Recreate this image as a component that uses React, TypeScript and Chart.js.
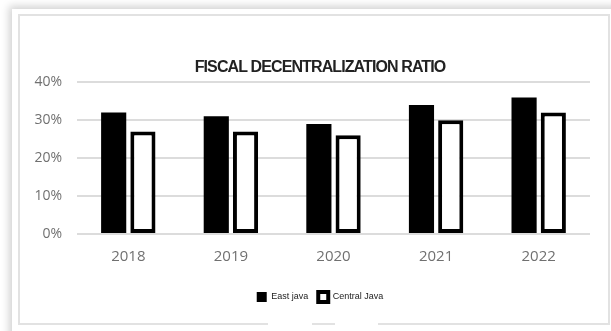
import React, { useEffect, useRef } from "react";
import { Chart, registerables } from "chart.js";

Chart.register(...registerables);

const categories = ["2018", "2019", "2020", "2021", "2022"];
const eastJava = [32, 31, 29, 34, 36];
const centralJava = [27, 27, 26, 30, 32];
const yTicks = [0, 10, 20, 30, 40];
const titleText = "FISCAL DECENTRALIZATION RATIO";

const wrapDraw = (chart: any, block: any, shiftX: number, spacing: string | null) => {
  if (!block || block._wrapped) return;
  const orig = block.draw.bind(block);
  block.draw = (...args: any[]) => {
    const c = chart.ctx as any;
    c.save();
    c.translate(shiftX, 0);
    if (spacing) c.letterSpacing = spacing;
    orig(...args);
    c.restore();
  };
  block._wrapped = true;
};

const blockShiftPlugin = {
  id: "blockShift",
  afterLayout(chart: any) {
    wrapDraw(chart, chart.titleBlock, 15.5, "-0.9px");
    wrapDraw(chart, chart.legend, 15.5, null);
  },
};

export default function App() {
  const ref = useRef<HTMLCanvasElement | null>(null);

  useEffect(() => {
    document.body.style.margin = "0";
    const ctx = ref.current;
    if (!ctx) return;
    const chart = new Chart(ctx, {
      type: "bar",
      plugins: [blockShiftPlugin],
      data: {
        labels: categories,
        datasets: [
          {
            label: "East java",
            data: eastJava,
            backgroundColor: "#000000",
            borderColor: "#000000",
            borderWidth: 0,
            categoryPercentage: 0.57,
            barPercentage: 0.86,
          },
          {
            label: "Central Java",
            data: centralJava,
            backgroundColor: "#ffffff",
            borderColor: "#000000",
            borderWidth: 4,
            borderSkipped: false,
            categoryPercentage: 0.57,
            barPercentage: 0.86,
          },
        ],
      },
      options: {
        responsive: false,
        animation: false,
        layout: { padding: { left: 0, right: 17, top: 0, bottom: 10 } },
        plugins: {
          tooltip: { enabled: false },
          title: {
            display: true,
            text: titleText,
            color: "#222222",
            font: { family: "'Liberation Sans', Arial, sans-serif", size: 16, weight: "bold" },
            padding: { top: 42, bottom: 5 },
          },
          legend: {
            display: true,
            position: "bottom",
            labels: {
              color: "#222222",
              boxWidth: 10,
              boxHeight: 10,
              padding: 10,
              font: { family: "'Liberation Sans', Arial, sans-serif", size: 9 },
            },
          },
        },
        scales: {
          x: {
            afterFit: (scale: any) => {
              scale.height = 48;
            },
            grid: { display: false, drawTicks: false },
            border: { display: false },
            ticks: {
              color: "#707070",
              padding: 14,
              font: { family: "'Open Sans', sans-serif", size: 15 },
            },
          },
          y: {
            min: 0,
            max: 40,
            afterFit: (scale: any) => {
              scale.width = 58;
            },
            afterBuildTicks: (scale: any) => {
              scale.ticks = yTicks.map((v) => ({ value: v }));
            },
            grid: { color: "#dcdcdc", lineWidth: 2, drawTicks: false },
            border: { display: false },
            ticks: {
              color: "#707070",
              padding: 15,
              font: { family: "'Open Sans', sans-serif", size: 14 },
              callback: (v: any) => v + "%",
            },
          },
        },
      },
    });
    return () => chart.destroy();
  }, []);

  return (
    <div style={{ position: "relative", width: 611, height: 331, overflow: "hidden", background: "#ffffff" }}>
      <div
        style={{
          position: "absolute",
          left: 12,
          top: 9,
          width: 640,
          height: 360,
          background: "#ffffff",
          boxShadow: "-3px -3px 8px rgba(0,0,0,0.18)",
        }}
      />
      <div
        style={{
          position: "absolute",
          left: 18,
          top: 14,
          width: 588,
          height: 307,
          border: "2px solid #e2e2e2",
          background: "#ffffff",
        }}
      />
      <div style={{ position: "absolute", left: 268, top: 321, width: 44, height: 4, background: "#ffffff" }} />
      <div style={{ position: "absolute", left: 335, top: 321, width: 43, height: 4, background: "#ffffff" }} />
      <canvas ref={ref} width={588} height={306} style={{ position: "absolute", left: 19, top: 16 }} />
    </div>
  );
}
